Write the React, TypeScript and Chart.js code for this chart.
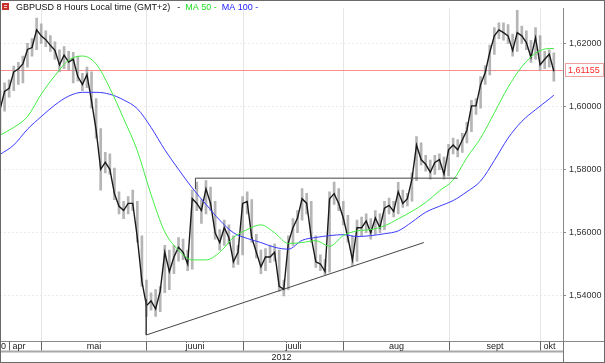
import React, { useEffect, useRef } from "react";
import { Chart, registerables } from "chart.js";
Chart.register(...registerables);

// One point per trading day, 18 Apr 2012 .. 3 Oct 2012
const closes = [
  1.5990, 1.6048, 1.6058, 1.6110, 1.6119, 1.6135, 1.6181, 1.6187, 1.6243, 1.6224,
  1.6212, 1.6194, 1.6178, 1.6132, 1.6163, 1.6141, 1.6150, 1.6095, 1.6070, 1.6101,
  1.6017, 1.5925, 1.5801, 1.5823, 1.5801, 1.5724, 1.5684, 1.5671, 1.5693, 1.5693,
  1.5585, 1.5446, 1.5369, 1.5384, 1.5359, 1.5415, 1.5538, 1.5477, 1.5523, 1.5554,
  1.5538, 1.5501, 1.5708, 1.5693, 1.5671, 1.5739, 1.5693, 1.5600, 1.5569, 1.5616,
  1.5585, 1.5508, 1.5538, 1.5693, 1.5699, 1.5585, 1.5538, 1.5492, 1.5523, 1.5523,
  1.5538, 1.5430, 1.5421, 1.5569, 1.5616, 1.5647, 1.5708, 1.5693, 1.5585, 1.5508,
  1.5501, 1.5477, 1.5708, 1.5724, 1.5693, 1.5647, 1.5585, 1.5514, 1.5616, 1.5616,
  1.5637, 1.5600, 1.5647, 1.5616, 1.5678, 1.5687, 1.5668, 1.5730, 1.5693, 1.5708,
  1.5770, 1.5878, 1.5832, 1.5817, 1.5792, 1.5823, 1.5832, 1.5786, 1.5863, 1.5878,
  1.5863, 1.5894, 1.5925, 1.6002, 1.6002, 1.6070, 1.6107, 1.6172, 1.6224, 1.6243,
  1.6234, 1.6224, 1.6178, 1.6234, 1.6224, 1.6203, 1.6156, 1.6218, 1.6132, 1.6150,
  1.6166, 1.6112,
];
const highs = [
  1.6050, 1.6075, 1.6085, 1.6128, 1.6140, 1.6160, 1.6200, 1.6215, 1.6280, 1.6262,
  1.6240, 1.6225, 1.6205, 1.6180, 1.6190, 1.6175, 1.6172, 1.6160, 1.6105, 1.6125,
  1.6110, 1.6025, 1.5930, 1.5855, 1.5850, 1.5805, 1.5730, 1.5700, 1.5715, 1.5735,
  1.5700, 1.5590, 1.5450, 1.5410, 1.5420, 1.5430, 1.5560, 1.5545, 1.5560, 1.5585,
  1.5580, 1.5545, 1.5735, 1.5761, 1.5705, 1.5765, 1.5745, 1.5700, 1.5610, 1.5640,
  1.5625, 1.5590, 1.5560, 1.5715, 1.5730, 1.5705, 1.5595, 1.5545, 1.5550, 1.5560,
  1.5565, 1.5545, 1.5450, 1.5590, 1.5645, 1.5670, 1.5740, 1.5725, 1.5700, 1.5590,
  1.5530, 1.5515, 1.5730, 1.5761, 1.5740, 1.5700, 1.5655, 1.5590, 1.5640, 1.5650,
  1.5660, 1.5645, 1.5670, 1.5660, 1.5700, 1.5710, 1.5700, 1.5760, 1.5735, 1.5725,
  1.5790, 1.5905, 1.5885, 1.5845, 1.5830, 1.5845, 1.5850, 1.5840, 1.5880, 1.5900,
  1.5895, 1.5915, 1.5950, 1.6020, 1.6025, 1.6095, 1.6130, 1.6195, 1.6250, 1.6265,
  1.6265, 1.6260, 1.6230, 1.6305, 1.6255, 1.6240, 1.6210, 1.6250, 1.6225, 1.6175,
  1.6180, 1.6170,
];
const lows = [
  1.5915, 1.5985, 1.6030, 1.6050, 1.6070, 1.6075, 1.6125, 1.6160, 1.6180, 1.6200,
  1.6190, 1.6175, 1.6150, 1.6110, 1.6120, 1.6115, 1.6075, 1.6080, 1.6050, 1.6060,
  1.5995, 1.5900, 1.5735, 1.5790, 1.5785, 1.5705, 1.5660, 1.5645, 1.5660, 1.5670,
  1.5570, 1.5430, 1.5335, 1.5355, 1.5335, 1.5350, 1.5410, 1.5420, 1.5470, 1.5510,
  1.5515, 1.5480, 1.5485, 1.5670, 1.5630, 1.5660, 1.5670, 1.5580, 1.5545, 1.5560,
  1.5565, 1.5490, 1.5500, 1.5530, 1.5660, 1.5570, 1.5520, 1.5470, 1.5480, 1.5505,
  1.5510, 1.5415, 1.5400, 1.5420, 1.5560, 1.5600, 1.5640, 1.5660, 1.5570, 1.5490,
  1.5480, 1.5467, 1.5475, 1.5690, 1.5670, 1.5625, 1.5570, 1.5495, 1.5510, 1.5590,
  1.5600, 1.5580, 1.5595, 1.5600, 1.5610, 1.5660, 1.5650, 1.5660, 1.5680, 1.5685,
  1.5700, 1.5765, 1.5815, 1.5795, 1.5770, 1.5785, 1.5800, 1.5770, 1.5780, 1.5850,
  1.5840, 1.5855, 1.5885, 1.5920, 1.5975, 1.5995, 1.6070, 1.6100, 1.6165, 1.6215,
  1.6210, 1.6200, 1.6160, 1.6175, 1.6200, 1.6180, 1.6140, 1.6150, 1.6115, 1.6120,
  1.6125, 1.6080,
];

// Moving averages, sampled on the same day index
const maIndex = [
  0, 3, 6, 9, 12, 15, 18, 21, 24, 27, 30, 33, 36, 39, 42, 45, 48, 51, 54, 57, 60,
  63, 66, 69, 72, 75, 78, 81, 84, 87, 90, 93, 96, 99, 102, 105, 108, 111, 114, 117,
  120, 121,
];
const ma50 = [
  1.5909, 1.5934, 1.5968, 1.6039, 1.6098, 1.6147, 1.6160, 1.6135, 1.6058, 1.5962,
  1.5860, 1.5721, 1.5603, 1.5545, 1.5514, 1.5514, 1.5538, 1.5585, 1.5610, 1.5625,
  1.5600, 1.5566, 1.5569, 1.5575, 1.5557, 1.5591, 1.5606, 1.5610, 1.5622, 1.5644,
  1.5668, 1.5696, 1.5733, 1.5767, 1.5838, 1.5900, 1.5980, 1.6061, 1.6126, 1.6169,
  1.6184, 1.6184,
];
const ma100 = [
  1.5848, 1.5878, 1.5928, 1.5968, 1.6005, 1.6033, 1.6045, 1.6045, 1.6039, 1.6021,
  1.5993, 1.5934, 1.5863, 1.5801, 1.5742, 1.5690, 1.5640, 1.5600, 1.5582, 1.5569,
  1.5554, 1.5548, 1.5576, 1.5585, 1.5591, 1.5594, 1.5588, 1.5591, 1.5597, 1.5606,
  1.5634, 1.5665, 1.5684, 1.5702, 1.5730, 1.5764, 1.5829, 1.5900, 1.5953, 1.5990,
  1.6024, 1.6036,
];

// Drawn trend lines (day index, price)
const resistanceX = [42.7, 42.7, 100];
const resistanceY = [1.5738, 1.5773, 1.5773];
const supportX = [31.95, 31.95, 92.6];
const supportY = [1.5390, 1.5276, 1.5569];

// Time axis bands
const leadLabel = "0";
const monthStarts = [2, 9, 32, 53, 75, 98, 118];
const monthLabels = ["apr", "mai", "juuni", "juuli", "aug", "sept", "okt"];
const yearLabel = "2012";
const lastIndex = 123;

const yTicks = [1.54, 1.56, 1.58, 1.6, 1.62];
const yMin = 1.5257;
const yMax = 1.6311;
const lastPrice = 1.61155;

const titleText = "GBPUSD 8 Hours Local time (GMT+2)";
const ma50Label = "MA 50 -";
const ma100Label = "MA 100 -";

const FONT = "9px 'Liberation Sans', Arial, sans-serif";
const fmt = (v: number, d: number) => v.toFixed(d).replace(".", ",");

export default function App() {
  const ref = useRef<HTMLCanvasElement | null>(null);

  useEffect(() => {
    document.body.style.margin = "0";
    const canvas = ref.current;
    if (!canvas) return;

    const framePlugin = {
      id: "frame",
      beforeDraw(chart: any) {
        const c = chart.ctx;
        c.save();
        c.fillStyle = "#ffffff";
        c.fillRect(0, 0, chart.width, chart.height);
        c.restore();
      },
      beforeDatasetsDraw(chart: any) {
        const c = chart.ctx;
        const x = chart.scales.x;
        const y = chart.scales.y;
        const a = chart.chartArea;
        c.save();
        c.strokeStyle = "#e6e6e6";
        c.lineWidth = 1;
        for (let k = 1; k < monthStarts.length; k++) {
          const px = Math.round(x.getPixelForValue(monthStarts[k])) + 0.5;
          c.beginPath();
          c.moveTo(px, a.top);
          c.lineTo(px, a.bottom);
          c.stroke();
        }
        const py = Math.round(y.getPixelForValue(lastPrice)) + 0.5;
        c.strokeStyle = "#ff8c8c";
        c.beginPath();
        c.moveTo(a.left, py);
        c.lineTo(a.right, py);
        c.stroke();
        c.restore();
      },
      afterDraw(chart: any) {
        const c = chart.ctx;
        const x = chart.scales.x;
        const y = chart.scales.y;
        const a = chart.chartArea;
        const W = chart.width;
        const H = chart.height;
        c.save();
        c.font = FONT;

        // legend
        c.fillStyle = "#c8302a";
        c.fillRect(2, 3, 7, 7);
        c.fillStyle = "#f4c0c0";
        c.fillRect(4, 5, 3, 1);
        c.fillRect(4, 7, 3, 1);
        c.textBaseline = "alphabetic";
        c.textAlign = "left";
        let tx = 16;
        c.fillStyle = "#111";
        c.fillText(titleText, tx, 10);
        tx += c.measureText(titleText).width + 7;
        c.fillText("-", tx, 10);
        tx += 8;
        c.fillStyle = "#22dd22";
        c.fillText(ma50Label, tx, 10);
        tx += c.measureText(ma50Label).width + 5;
        c.fillStyle = "#2222ff";
        c.fillText(ma100Label, tx, 10);

        // last price box
        const py = Math.round(y.getPixelForValue(lastPrice));
        c.fillStyle = "#ffffff";
        c.fillRect(565, py - 7, 39, 14);
        c.strokeStyle = "#f0a0a0";
        c.lineWidth = 1;
        c.strokeRect(565.5, py - 6.5, 38, 13);
        c.fillStyle = "#ff2a2a";
        c.textBaseline = "middle";
        c.fillText(fmt(lastPrice, 5), 568, py + 0.5);

        // bottom time band
        const bTop = Math.round(a.bottom) + 0.5;
        const bMid = bTop + 10;
        c.strokeStyle = "#8a8a8a";
        c.beginPath();
        c.moveTo(0, bTop);
        c.lineTo(W, bTop);
        c.stroke();
        c.strokeStyle = "#a8a8a8";
        c.lineWidth = 2;
        c.beginPath();
        c.moveTo(0, bMid);
        c.lineTo(a.right, bMid);
        c.stroke();
        c.lineWidth = 1;
        c.strokeStyle = "#777";
        const right = Math.round(a.right) + 0.5;
        c.beginPath();
        c.moveTo(right, bTop);
        c.lineTo(right, H);
        c.stroke();

        const starts = monthStarts.map((m) => Math.round(x.getPixelForValue(m)) + 0.5);
        c.strokeStyle = "#666";
        for (const s of starts) {
          c.beginPath();
          c.moveTo(s, bTop);
          c.lineTo(s, bMid - 1);
          c.stroke();
        }
        c.fillStyle = "#222";
        c.textBaseline = "middle";
        c.textAlign = "left";
        c.fillText(leadLabel, 1, bTop + 5.5);
        for (let k = 0; k < monthLabels.length; k++) {
          const s = starts[k];
          const e = k + 1 < starts.length ? starts[k + 1] : x.getPixelForValue(lastIndex);
          if (k === 0 || k === monthLabels.length - 1) {
            c.textAlign = "left";
            c.fillText(monthLabels[k], s + 3, bTop + 5.5);
          } else {
            c.textAlign = "center";
            c.fillText(monthLabels[k], (s + e) / 2, bTop + 5.5);
          }
        }
        c.textAlign = "center";
        c.fillText(yearLabel, a.right / 2, bMid + 6);

        // outer frame
        c.strokeStyle = "#6a6a6a";
        c.strokeRect(0.5, 0.5, W - 1, H - 1);
        c.restore();
      },
    };

    const chart = new Chart(canvas, {
      type: "line",
      data: {
        datasets: [
          {
            type: "line",
            data: resistanceX.map((v, i) => ({ x: v, y: resistanceY[i] })),
            borderColor: "#444",
            borderWidth: 1,
            pointRadius: 0,
            tension: 0,
            order: 0,
          },
          {
            type: "line",
            data: supportX.map((v, i) => ({ x: v, y: supportY[i] })),
            borderColor: "#444",
            borderWidth: 1,
            pointRadius: 0,
            tension: 0,
            order: 0,
          },
          {
            type: "line",
            data: maIndex.map((v, i) => ({ x: v, y: ma50[i] })),
            borderColor: "#44ee44",
            borderWidth: 1,
            pointRadius: 0,
            cubicInterpolationMode: "monotone",
            order: 1,
          },
          {
            type: "line",
            data: maIndex.map((v, i) => ({ x: v, y: ma100[i] })),
            borderColor: "#3a3aff",
            borderWidth: 1,
            pointRadius: 0,
            cubicInterpolationMode: "monotone",
            order: 1,
          },
          {
            type: "line",
            data: closes.map((v, i) => ({ x: i, y: v })),
            borderColor: "#1a1a1a",
            borderWidth: 1.4,
            pointRadius: 0,
            tension: 0,
            order: 2,
          },
          {
            type: "bar",
            data: closes.map((_, i) => ({ x: i, y: [lows[i], highs[i]] })),
            backgroundColor: "rgba(150,150,150,0.7)",
            borderWidth: 0,
            barThickness: 2,
            order: 3,
          } as any,
        ],
      },
      options: {
        responsive: false,
        animation: false,
        events: [],
        layout: { padding: { left: 0, top: 0, right: 0, bottom: 22 } },
        plugins: { legend: { display: false }, tooltip: { enabled: false }, title: { display: false } },
        scales: {
          x: {
            type: "linear",
            min: 0,
            max: lastIndex,
            offset: false,
            display: false,
          },
          y: {
            position: "right",
            min: yMin,
            max: yMax,
            afterBuildTicks: (s: any) => {
              s.ticks = yTicks.map((v) => ({ value: v }));
            },
            afterFit: (s: any) => {
              s.width = 42;
            },
            grid: { color: "#ebebeb", tickLength: 3, tickColor: "#888" },
            border: { display: true, color: "#888", dash: [2, 2] },
            ticks: {
              color: "#333",
              padding: 3,
              font: { family: "'Liberation Sans', Arial, sans-serif", size: 9 },
              callback: (v: any) => fmt(Number(v), 5),
            },
          },
        },
      },
      plugins: [framePlugin],
    });
    return () => chart.destroy();
  }, []);

  return (
    <div style={{ width: 605, height: 363 }}>
      <canvas ref={ref} width={605} height={363} style={{ display: "block" }} />
    </div>
  );
}
